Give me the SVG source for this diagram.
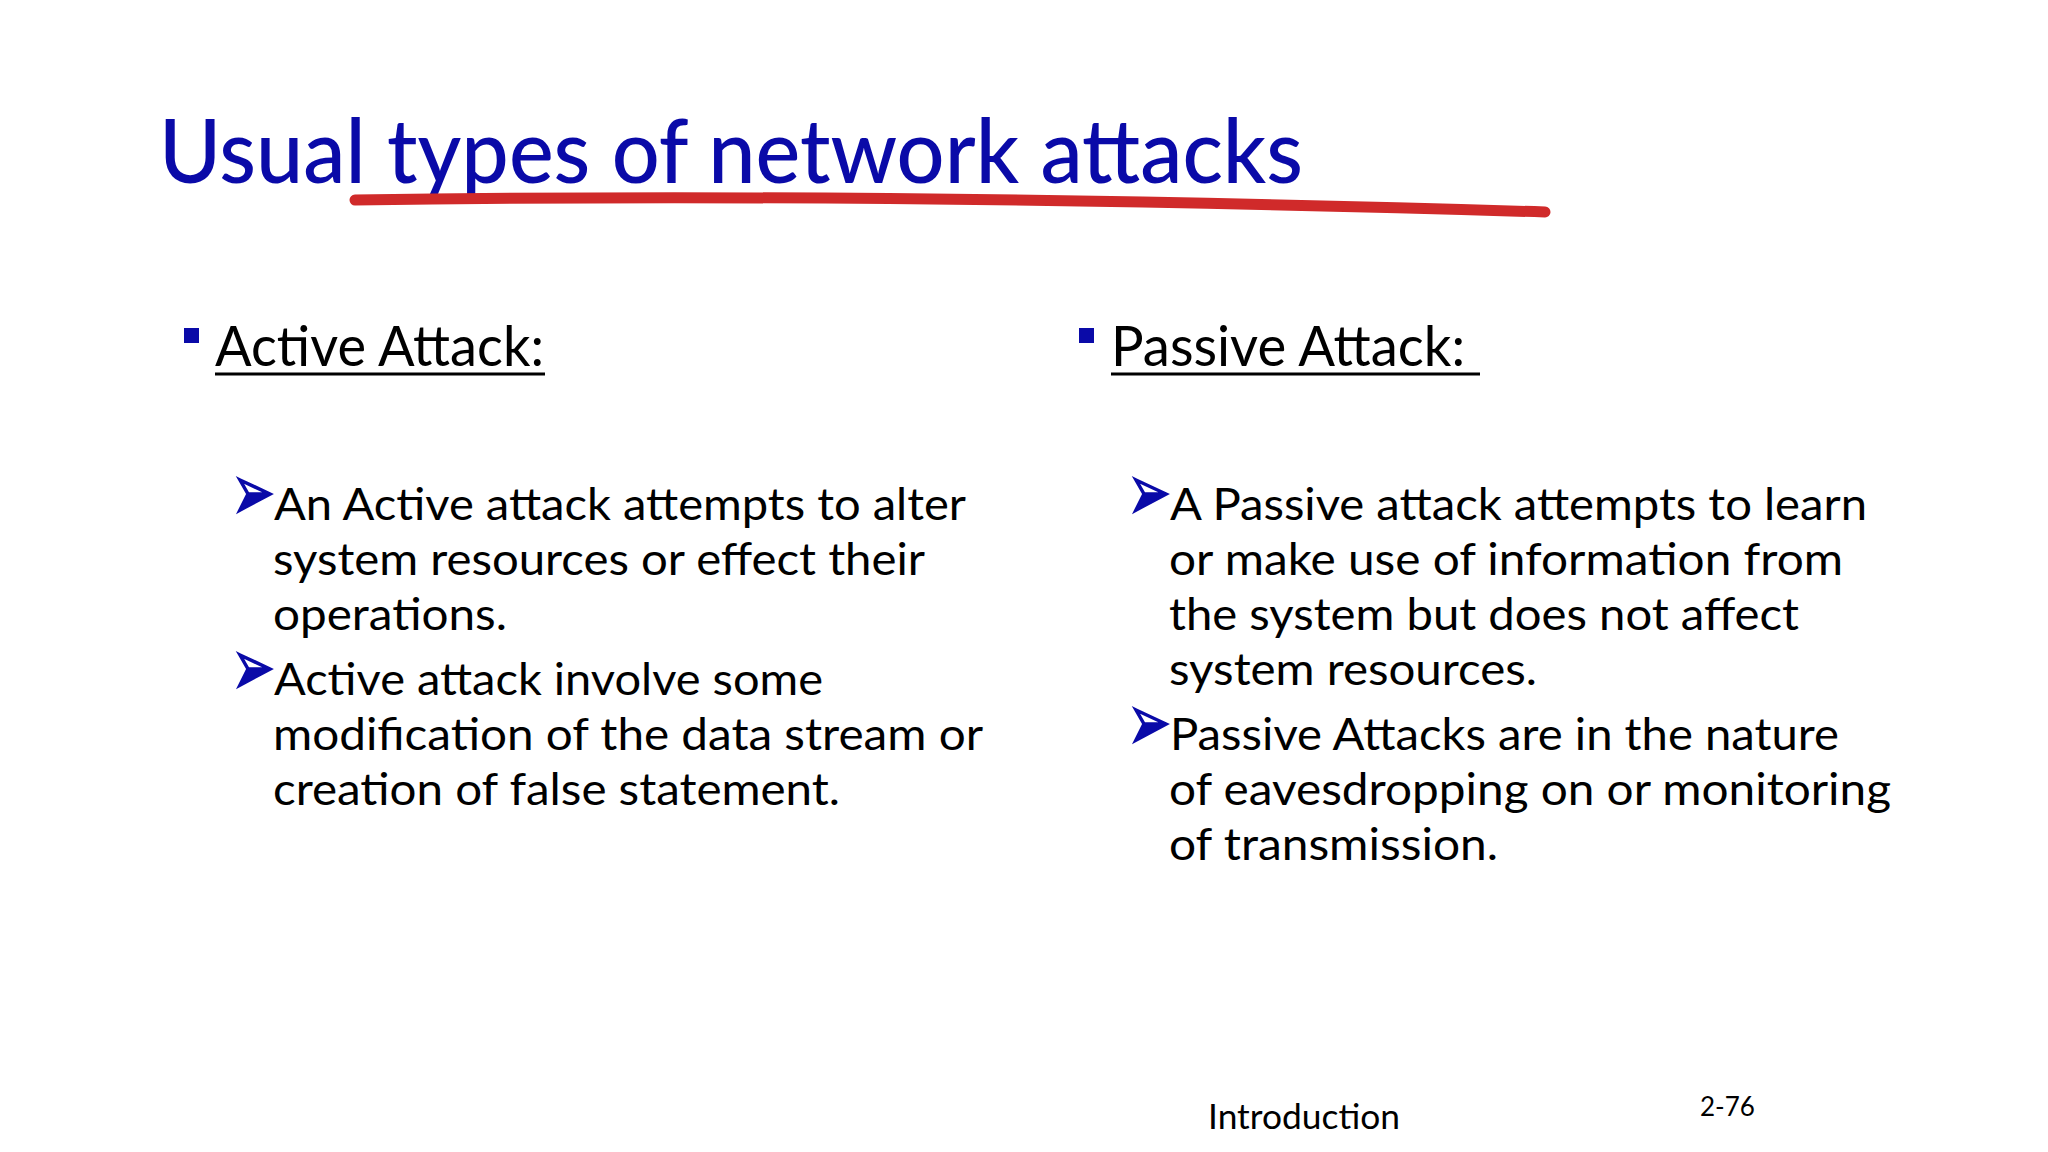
<svg xmlns="http://www.w3.org/2000/svg" width="2048" height="1152" viewBox="0 0 2048 1152">
<style>
.t{font-family:Lato,"Open Sans",sans-serif;fill:#000}
.b{font-size:45px}
.h{font-size:57px}
.ul{stroke:#000;stroke-width:3}
.sq{fill:#0a0aa8}
.ar{fill:none;stroke:#0a0aa8;stroke-width:3.5;stroke-linejoin:miter}
</style>
<defs>
<g id="arrow"><path class="ar" d="M0,0 L30,14 L0,30 L8,14 Z M8,14 L30,14"/><path d="M0,30 L8,14 L30,14 Z" fill="#0a0aa8"/></g>
</defs>
<rect width="2048" height="1152" fill="#fff"/>
<g id="title">
<text x="159" y="183" class="t" style="font-size:88px;fill:#0a0aa8;font-weight:500" textLength="1144" lengthAdjust="spacingAndGlyphs">Usual types of network attacks</text>
<path d="M355,200 Q900,192 1545,212" stroke="#d02a2a" stroke-width="11" stroke-linecap="round" fill="none"/>
</g>
<g id="active">
<rect class="sq" x="184" y="328" width="15" height="15"/>
<text x="215" y="366" class="t h" textLength="329" lengthAdjust="spacingAndGlyphs">Active Attack:</text>
<line class="ul" x1="215" y1="374" x2="545" y2="374"/>
<use href="#arrow" x="240" y="480"/>
<text x="274" y="520" class="t b" textLength="692" lengthAdjust="spacingAndGlyphs">An Active attack attempts to alter</text>
<text x="273" y="575" class="t b" textLength="652" lengthAdjust="spacingAndGlyphs">system resources or effect their</text>
<text x="273" y="630" class="t b" textLength="234" lengthAdjust="spacingAndGlyphs">operations.</text>
<use href="#arrow" x="240" y="655"/>
<text x="274" y="695" class="t b" textLength="549" lengthAdjust="spacingAndGlyphs">Active attack involve some</text>
<text x="273" y="750" class="t b" textLength="710" lengthAdjust="spacingAndGlyphs">modification of the data stream or</text>
<text x="273" y="805" class="t b" textLength="567" lengthAdjust="spacingAndGlyphs">creation of false statement.</text>
</g>
<g id="passive">
<rect class="sq" x="1079" y="328" width="15" height="15"/>
<text x="1111" y="366" class="t h" textLength="354" lengthAdjust="spacingAndGlyphs">Passive Attack:</text>
<line class="ul" x1="1111" y1="374" x2="1480" y2="374"/>
<use href="#arrow" x="1136" y="480"/>
<text x="1170" y="520" class="t b" textLength="697" lengthAdjust="spacingAndGlyphs">A Passive attack attempts to learn</text>
<text x="1169" y="575" class="t b" textLength="674" lengthAdjust="spacingAndGlyphs">or make use of information from</text>
<text x="1169" y="630" class="t b" textLength="630" lengthAdjust="spacingAndGlyphs">the system but does not affect</text>
<text x="1169" y="685" class="t b" textLength="368" lengthAdjust="spacingAndGlyphs">system resources.</text>
<use href="#arrow" x="1136" y="710"/>
<text x="1170" y="750" class="t b" textLength="669" lengthAdjust="spacingAndGlyphs">Passive Attacks are in the nature</text>
<text x="1169" y="805" class="t b" textLength="722" lengthAdjust="spacingAndGlyphs">of eavesdropping on or monitoring</text>
<text x="1169" y="860" class="t b" textLength="329" lengthAdjust="spacingAndGlyphs">of transmission.</text>
</g>
<g id="footer">
<text x="1208" y="1129" class="t" style="font-size:34px" textLength="192" lengthAdjust="spacingAndGlyphs">Introduction</text>
<text x="1700" y="1116" class="t" style="font-size:26px">2-76</text>
</g>
</svg>
